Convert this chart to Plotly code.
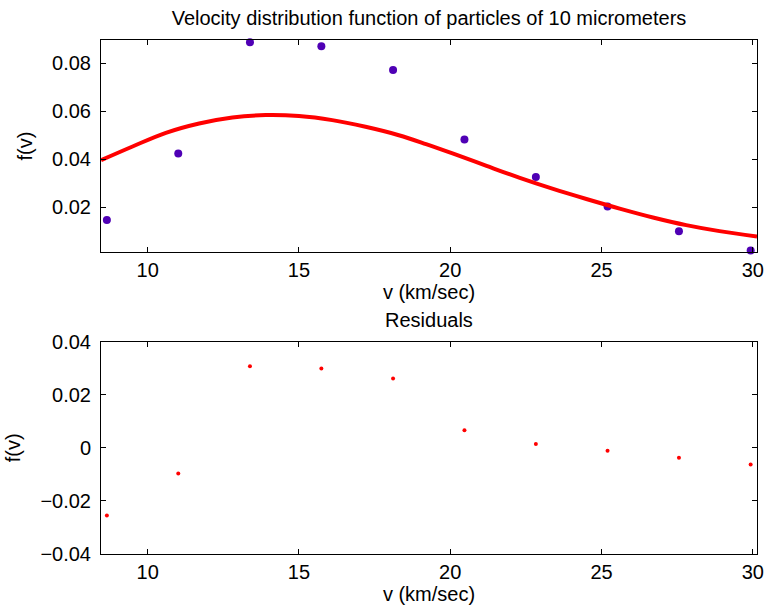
import plotly.graph_objects as go
from plotly.subplots import make_subplots

# measured data
v = [8.65, 11.01, 13.38, 15.74, 18.11, 20.47, 22.83, 25.20, 27.56, 29.93]
f_data = [0.0146, 0.0424, 0.0888, 0.0871, 0.0772, 0.0482, 0.0326, 0.0203, 0.0100, 0.0019]
residuals = [-0.0255, -0.0097, 0.0307, 0.0298, 0.0261, 0.0066, 0.0014, -0.0011, -0.0038, -0.0063]

# fitted curve
v_fit = [8.46, 9.5, 10.6, 11.7, 12.8, 13.9, 15.0, 16.1, 17.2, 18.3, 19.2, 20.1,
         21.2, 22.3, 23.4, 24.5, 25.6, 26.7, 27.8, 28.9, 30.14]
f_fit = [0.0396, 0.0453, 0.0510, 0.0549, 0.0574, 0.0584, 0.0580, 0.0563, 0.0535,
         0.0500, 0.0463, 0.0423, 0.0372, 0.0322, 0.0276, 0.0234, 0.0194, 0.0157,
         0.0125, 0.0100, 0.0078]

x_ticks = [10, 15, 20, 25, 30]
y_ticks_top = [0.02, 0.04, 0.06, 0.08]
y_ticktext_top = ["0.02", "0.04", "0.06", "0.08"]
y_ticks_bot = [-0.04, -0.02, 0, 0.02, 0.04]
y_ticktext_bot = ["\u22120.04", "\u22120.02", "0", "0.02", "0.04"]

FONT = "Liberation Sans, Arial, sans-serif"
FS = 20

W, H = 766, 610
L, R, T, B = 101, 9, 40, 56
PH = H - T - B  # plot height in px

fig = make_subplots(rows=2, cols=1, vertical_spacing=0.0)

fig.add_trace(go.Scatter(x=v, y=f_data, mode="markers",
                         marker=dict(color="#4f00b5", size=8),
                         cliponaxis=False, showlegend=False), row=1, col=1)
fig.add_trace(go.Scatter(x=v_fit, y=f_fit, mode="lines", line_shape="spline",
                         line=dict(color="#ff0000", width=4),
                         showlegend=False), row=1, col=1)
fig.add_trace(go.Scatter(x=v, y=residuals, mode="markers",
                         marker=dict(color="#ff0000", size=4),
                         cliponaxis=False, showlegend=False), row=2, col=1)

axis_common = dict(showline=True, linecolor="black", linewidth=1, mirror="ticks",
                   ticks="inside", ticklen=5, tickcolor="black", tickwidth=1,
                   showgrid=False, zeroline=False, automargin=False,
                   tickfont=dict(family=FONT, size=FS, color="black"))

fig.update_xaxes(**axis_common, range=[8.456, 30.14], tickvals=x_ticks,
                 ticklabelstandoff=0,
                 title=dict(text="v (km/sec)", font=dict(family=FONT, size=FS, color="black"),
                            standoff=3))
fig.update_yaxes(**axis_common, ticklabelstandoff=5,
                 title=dict(text="f(v)", font=dict(family=FONT, size=FS, color="black"),
                            standoff=14))
fig.update_yaxes(range=[0.0013, 0.0897], tickvals=y_ticks_top,
                 ticktext=y_ticktext_top, row=1, col=1)
fig.update_yaxes(range=[-0.04, 0.04], tickvals=y_ticks_bot,
                 ticktext=y_ticktext_bot, row=2, col=1)

top_y0, top_y1 = 40, 252      # px from top of figure
bot_y0, bot_y1 = 341.5, 554

fig.update_layout(
    width=W, height=H,
    margin=dict(l=L, r=R, t=T, b=B),
    paper_bgcolor="white", plot_bgcolor="white",
    font=dict(family=FONT, size=FS, color="black"),
    title=dict(text="Velocity distribution function of particles of 10 micrometers",
               x=(L + (W - L - R) / 2) / W, xanchor="center", y=1 - 18 / H, yanchor="middle",
               font=dict(family=FONT, size=FS, color="black")),
    xaxis=dict(domain=[0, 1]),
    yaxis=dict(domain=[(H - B - top_y1) / PH, (H - B - top_y0) / PH]),
    yaxis2=dict(domain=[(H - B - bot_y1) / PH, (H - B - bot_y0) / PH]),
    annotations=[dict(text="Residuals", xref="paper", yref="paper",
                      x=0.5, y=(H - B - 320) / PH, xanchor="center", yanchor="middle",
                      showarrow=False, font=dict(family=FONT, size=FS, color="black"))],
)

# remove the browser's default 8px body margin so the figure fills the window
fig.write_html("out.html",
               config={"displayModeBar": False},
               post_script="document.body.style.margin='0px';document.body.style.overflow='hidden';")
